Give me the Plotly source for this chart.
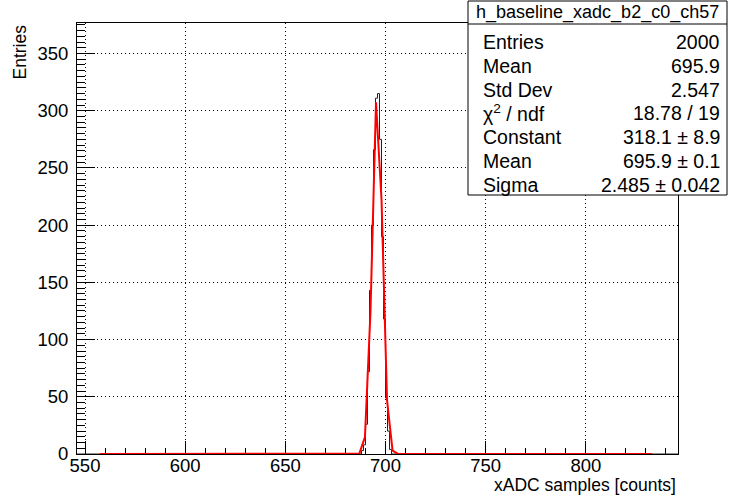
import numpy as np
import plotly.graph_objects as go

# ---------------------------------------------------------------- data
hist_name = "h_baseline_xadc_b2_c0_ch57"
x_title = "xADC samples [counts]"
y_title = "Entries"

# histogram: 300 bins of width 1 on [546, 846); only the peak bins are filled
x_lo, x_hi = 546, 846
filled_bins = [688, 689, 690, 691, 692, 693, 694, 695, 696, 697, 698, 699, 700, 701, 702]
filled_counts = [3, 8, 26, 72, 143, 200, 266, 311, 315, 275, 190, 118, 49, 20, 4]

# gaussian fit result
fit_const, fit_mean, fit_sigma = 318.1, 695.9, 2.485
fit_range = (557.5, 833.0)
fit_npx = 100

stat_labels = ["Entries", "Mean", "Std Dev", "χ<sup>2</sup> / ndf", "Constant", "Mean", "Sigma"]
stat_values = ["2000", "695.9", "2.547", "18.78 / 19", "318.1 ± 8.9", "695.9 ± 0.1", "2.485 ± 0.042"]

y_top = 376.7

# ---------------------------------------------------------------- layout geometry (px)
W, H = 729, 495
ML, MR, MT, MB = 77, 51, 23, 41
PW, PH = W - ML - MR, H - MT - MB


def px_x(p):
    return (p - ML) / PW


def px_y(p):
    return 1 - (p - MT) / PH


FONT = "Liberation Sans, Arial, Helvetica, sans-serif"

# ---------------------------------------------------------------- histogram outline
edges = np.arange(x_lo, x_hi + 1)
contents = np.zeros(len(edges) - 1)
for b, c in zip(filled_bins, filled_counts):
    contents[b - x_lo] = c
step_x = edges
step_y = np.append(contents, contents[-1])

# ---------------------------------------------------------------- fit curve
fx = np.linspace(fit_range[0], fit_range[1], fit_npx + 1)
fy = fit_const * np.exp(-0.5 * ((fx - fit_mean) / fit_sigma) ** 2)

fig = go.Figure()
fig.add_trace(go.Scatter(x=step_x, y=step_y, mode="lines", line_shape="hv",
                         line=dict(color="#222222", width=1), hoverinfo="skip"))
fig.add_trace(go.Scatter(x=fx, y=fy, mode="lines",
                         line=dict(color="#ff0000", width=2), hoverinfo="skip"))

axis_common = dict(
    showline=True, linecolor="black", linewidth=1, mirror=True,
    ticks="inside", tickcolor="black", tickwidth=1,
    showgrid=True, gridcolor="black", gridwidth=1, griddash="1px,3px",
    zeroline=False, tickfont=dict(family=FONT, size=18.5, color="black"),
    layer="below traces",
)

fig.update_xaxes(range=[x_lo, x_hi], tick0=0, dtick=50, ticklen=13, ticklabelstandoff=-5,
                 minor=dict(dtick=10, ticklen=6, ticks="inside", tickcolor="black", showgrid=False),
                 **axis_common)
fig.update_yaxes(range=[0, y_top], tick0=0, dtick=50, ticklen=18, ticklabelstandoff=4,
                 minor=dict(dtick=5, ticklen=8, ticks="inside", tickcolor="black", showgrid=False),
                 **axis_common)

# ---------------------------------------------------------------- stats box
box_l, box_r, box_t, box_b, sep_y = 468, 727, 1, 195, 24
shapes = [
    dict(type="rect", xref="paper", yref="paper", x0=px_x(box_l), x1=px_x(box_r),
         y0=px_y(box_b), y1=px_y(box_t), line=dict(color="black", width=1),
         fillcolor="white", layer="above"),
    dict(type="line", xref="paper", yref="paper", x0=px_x(box_l), x1=px_x(box_r),
         y0=px_y(sep_y), y1=px_y(sep_y), line=dict(color="black", width=1), layer="above"),
]

annotations = [
    dict(text=hist_name, xref="paper", yref="paper", x=px_x((box_l + box_r) / 2), y=px_y(12.5),
         xanchor="center", yanchor="middle", showarrow=False,
         font=dict(family=FONT, size=18, color="black")),
]
row0, row_h = 42, 23.8
for i, (lab, val) in enumerate(zip(stat_labels, stat_values)):
    yc = px_y(row0 + i * row_h)
    annotations.append(dict(text=lab, xref="paper", yref="paper", x=px_x(481), y=yc,
                            xanchor="left", yanchor="middle", showarrow=False,
                            font=dict(family=FONT, size=19.5, color="black")))
    annotations.append(dict(text=val, xref="paper", yref="paper", x=px_x(722), y=yc,
                            xanchor="right", yanchor="middle", showarrow=False,
                            font=dict(family=FONT, size=19.5, color="black")))

# axis titles
annotations.append(dict(text=x_title, xref="paper", yref="paper", x=px_x(678), y=px_y(484.5),
                        xanchor="right", yanchor="middle", showarrow=False,
                        font=dict(family=FONT, size=17.5, color="black")))
annotations.append(dict(text=y_title, xref="paper", yref="paper", x=px_x(19), y=px_y(23),
                        xanchor="center", yanchor="top", textangle=-90, showarrow=False,
                        font=dict(family=FONT, size=17.5, color="black")))

fig.update_layout(
    width=W, height=H,
    margin=dict(l=ML, r=MR, t=MT, b=MB, pad=0),
    paper_bgcolor="white", plot_bgcolor="white",
    showlegend=False,
    shapes=shapes, annotations=annotations,
)

fig.write_html("out.html")
